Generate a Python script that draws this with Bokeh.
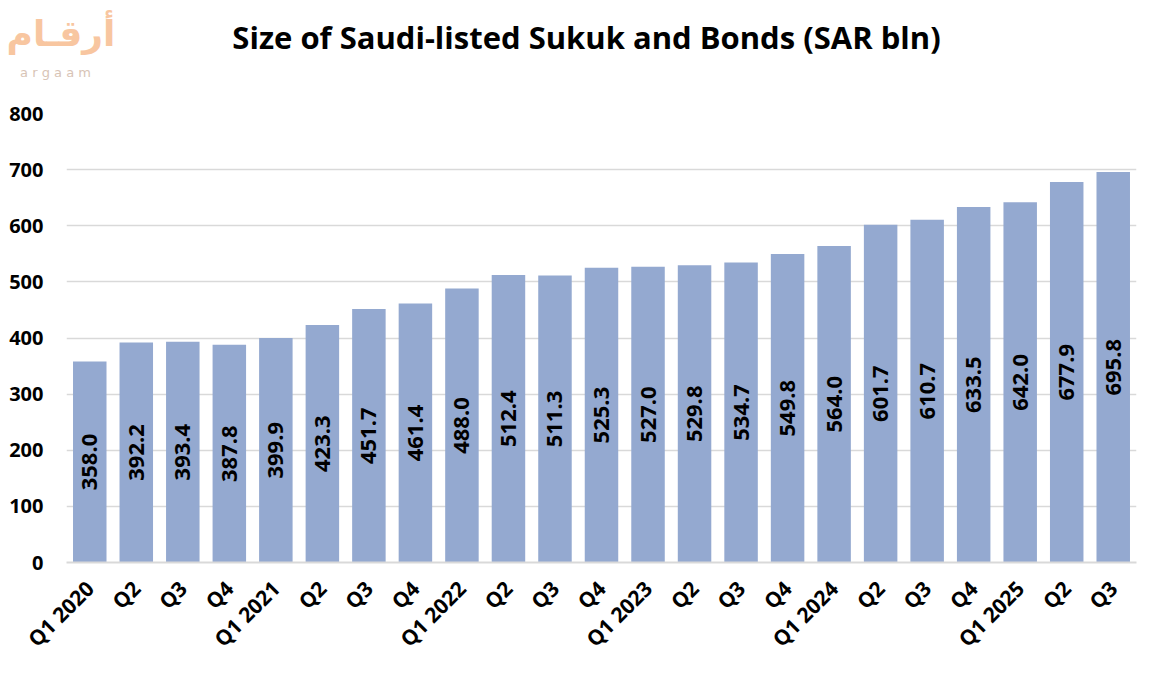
from math import pi
from bokeh.plotting import figure
from bokeh.layouts import column
from bokeh.models import ColumnDataSource, Range1d, FixedTicker
from bokeh.core.properties import value
from bokeh.embed import file_html
from bokeh.resources import INLINE

categories = ["Q1 2020", "Q2", "Q3", "Q4", "Q1 2021", "Q2", "Q3", "Q4",
              "Q1 2022", "Q2", "Q3", "Q4", "Q1 2023", "Q2", "Q3", "Q4",
              "Q1 2024", "Q2", "Q3", "Q4", "Q1 2025", "Q2", "Q3"]
values = [358.0, 392.2, 393.4, 387.8, 399.9, 423.3, 451.7, 461.4, 488.0, 512.4,
          511.3, 525.3, 527.0, 529.8, 534.7, 549.8, 564.0, 601.7, 610.7, 633.5,
          642.0, 677.9, 695.8]
y_ticks = [0, 100, 200, 300, 400, 500, 600, 700, 800]
title_text = "Size of Saudi-listed Sukuk and Bonds (SAR bln)"
logo_ar = "أرقـام"
logo_en = "a r g a a m"

FONT = "Open Sans"
BAR = "#94A9D0"
W = 1156
HEAD_H = 90

# ---- header (logo + title) ----
h = figure(width=W, height=HEAD_H, output_backend="svg", toolbar_location=None,
           x_axis_type=None, y_axis_type=None,
           x_range=Range1d(0, W), y_range=Range1d(HEAD_H, 0),
           min_border=0, min_border_left=0, min_border_right=0,
           min_border_top=0, min_border_bottom=0)
if "frame_align" in h.properties():
    h.frame_align = False
h.grid.visible = False
h.outline_line_color = None
h.text(x=[586], y=[36], text=[title_text], text_align="center", text_baseline="middle",
       text_font=value(FONT), text_font_style="bold", text_font_size="31px",
       text_color="black")
h.text(x=[6], y=[33], text=[logo_ar], text_align="left", text_baseline="middle",
       text_font=value("DejaVu Sans"), text_font_style="bold", text_font_size="36px",
       text_color="#F8C6A0")
h.text(x=[55], y=[72], text=[logo_en], text_align="center", text_baseline="middle",
       text_font=value("DejaVu Sans"), text_font_size="13px",
       text_color="#D8C4B6")

# ---- chart ----
n = len(values)
xs = list(range(n))
src = ColumnDataSource(dict(x=xs, top=values, mid=[v / 2 for v in values],
                            lbl=["%.1f" % v for v in values]))

p = figure(width=W, height=665 - HEAD_H, output_backend="svg", toolbar_location=None,
           x_range=Range1d(-0.5, n - 0.5), y_range=Range1d(0, 800),
           min_border_left=66, min_border_right=20, min_border_top=113 - HEAD_H,
           min_border_bottom=100)
if "frame_align" in p.properties():
    p.frame_align = False
p.outline_line_color = None
p.background_fill_color = "white"
p.border_fill_color = "white"

p.vbar(x="x", top="top", width=0.72, source=src, fill_color=BAR, line_color=None)
p.text(x="x", y="mid", text="lbl", source=src, angle=pi / 2,
       text_align="center", text_baseline="middle",
       text_font=value(FONT), text_font_style="bold", text_font_size="22px",
       text_color="black")

p.xgrid.grid_line_color = None
p.ygrid.grid_line_color = "#D9D9D9"
p.ygrid.grid_line_width = 1.5
p.ygrid.ticker = FixedTicker(ticks=y_ticks)

p.yaxis.ticker = FixedTicker(ticks=y_ticks)
p.yaxis.axis_line_color = None
p.yaxis.major_tick_line_color = None
p.yaxis.minor_tick_line_color = None
p.yaxis.major_label_standoff = 17
p.yaxis.major_label_text_font = FONT
p.yaxis.major_label_text_font_style = "bold"
p.yaxis.major_label_text_font_size = "20px"
p.yaxis.major_label_text_color = "black"

p.xaxis.ticker = FixedTicker(ticks=xs)
p.xaxis.major_label_overrides = {i: c for i, c in enumerate(categories)}
p.xaxis.major_label_orientation = pi / 4
p.xaxis.axis_line_color = "#D9D9D9"
p.xaxis.axis_line_width = 2
p.xaxis.major_tick_line_color = None
p.xaxis.minor_tick_line_color = None
p.xaxis.major_label_standoff = 16
p.xaxis.major_label_text_font = FONT
p.xaxis.major_label_text_font_style = "bold"
p.xaxis.major_label_text_font_size = "21px"
p.xaxis.major_label_text_color = "black"

layout = column(h, p, spacing=0)
open("out.html", "w").write(file_html(layout, INLINE))
